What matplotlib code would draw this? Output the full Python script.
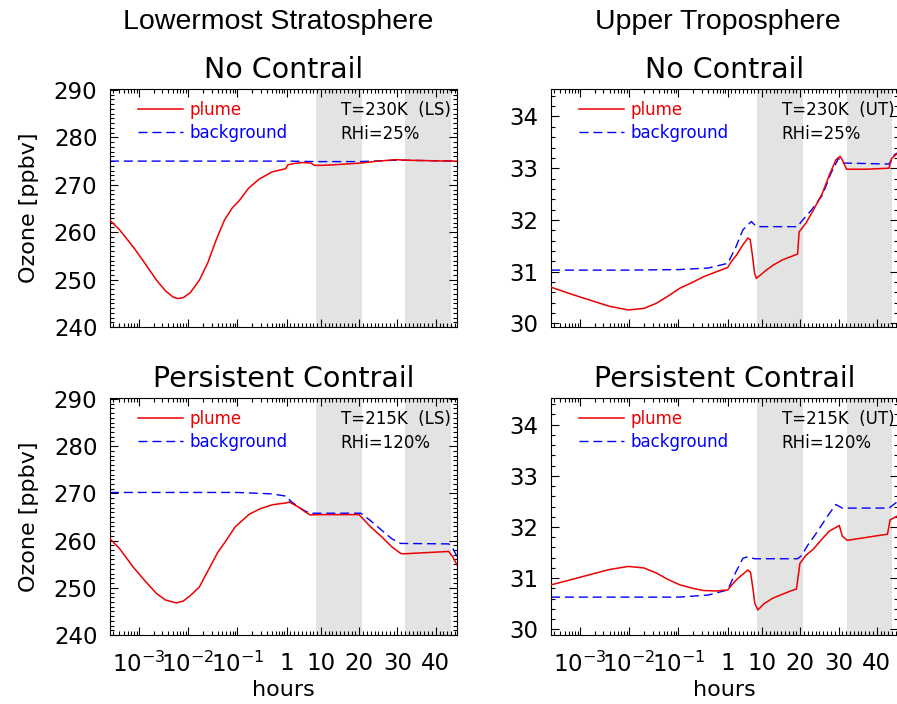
import numpy as np
import matplotlib
matplotlib.use('Agg')
import matplotlib.pyplot as plt
from matplotlib.ticker import FixedLocator, NullFormatter

# hours since emission; log axis below 1 h, linear above
K = 0.0776

# Lowermost stratosphere, no contrail
ls_nc_t = [2.6e-4, 4e-4, 7.7e-4, 1.3e-3, 2.28e-3, 3.5e-3, 5e-3, 6.2e-3, 8e-3, 0.011, 0.017, 0.025,
           0.037, 0.055, 0.08, 0.11, 0.17, 0.278, 0.5, 0.96, 1.1, 1.3, 3, 5.1, 7.3, 8.3, 10, 13,
           20.6, 25, 29.5, 32, 43.4, 45.6]
ls_nc_plume = [262.5, 260.6, 256.9, 253.6, 249.9, 247.6, 246.3, 246.0, 246.2, 247.2, 249.9, 253.5,
               258.3, 262.6, 265.2, 266.7, 269.3, 271.2, 272.7, 273.4, 273.9, 274.2, 274.5, 274.7,
               274.6, 274.1, 274.1, 274.2, 274.6, 275.0, 275.3, 275.2, 275.0, 275.0]
ls_nc_bg_t = [2.6e-4, 1.0, 8.7, 20.0, 30.0, 45.6]
ls_nc_bg = [275.0, 275.0, 274.9, 274.9, 275.2, 275.0]

# Lowermost stratosphere, persistent contrail
ls_pc_t = [2.6e-4, 4e-4, 7.7e-4, 1.3e-3, 2.28e-3, 3.5e-3, 5.8e-3, 8e-3, 0.011, 0.017, 0.025, 0.04,
           0.059, 0.09, 0.175, 0.3, 0.52, 1.0, 1.65, 3, 4.3, 6, 7.3, 8.5, 20, 20.4, 23, 26, 28.5,
           30.8, 31.6, 43.4, 44.5, 45.6]
ls_pc_plume = [260.4, 258.4, 254.4, 251.6, 248.8, 247.4, 246.8, 247.2, 248.3, 250.2, 253.5, 257.5,
               260.0, 262.9, 265.6, 266.8, 267.6, 268.0, 268.2, 267.6, 267.0, 266.0, 265.4, 265.5,
               265.5, 265.1, 262.9, 260.7, 258.7, 257.3, 257.2, 257.7, 256.5, 254.8]
ls_pc_bg_t = [2.6e-4, 0.1, 0.5, 1.0, 2.0, 4.3, 6, 7.8, 20.4, 23, 26, 28.5, 30.8, 43.4, 44.5, 45.6]
ls_pc_bg = [270.2, 270.2, 269.9, 269.4, 268.4, 267.0, 266.2, 265.8, 265.8, 264.2, 262.1, 260.4,
            259.4, 259.3, 258.3, 256.6]

# Upper troposphere, no contrail
ut_nc_t = [2.6e-4, 6e-4, 1.6e-3, 4e-3, 9.7e-3, 0.02, 0.036, 0.06, 0.107, 0.2, 0.32, 0.6, 1.0, 2.0,
           3.3, 5, 6.3, 6.9, 7.5, 8.05, 8.5, 9.5, 11.1, 13, 15.4, 19.3, 19.7, 21.5, 23.5, 25.8,
           27.5, 29.3, 30.4, 31.2, 32.1, 37, 43.2, 43.9, 45.5]
ut_nc_plume = [30.70, 30.58, 30.45, 30.33, 30.26, 30.29, 30.39, 30.52, 30.68, 30.80, 30.90, 31.00,
               31.08, 31.20, 31.32, 31.52, 31.65, 31.62, 31.30, 30.97, 30.87, 30.93, 31.03, 31.13,
               31.23, 31.34, 31.77, 31.94, 32.20, 32.52, 32.85, 33.16, 33.23, 33.13, 32.98, 32.98,
               33.00, 33.19, 33.29]
ut_nc_bg_t = [2.6e-4, 0.01, 0.1, 0.4, 1.0, 3, 5, 7.2, 8.5, 19.3, 20.3, 23, 25.8, 28, 30.0, 31.2,
              43.2, 44.6, 45.5]
ut_nc_bg = [31.03, 31.03, 31.04, 31.07, 31.16, 31.45, 31.81, 31.97, 31.87, 31.87, 31.97, 32.20,
            32.48, 32.90, 33.19, 33.10, 33.08, 33.26, 33.30]

# Upper troposphere, persistent contrail
ut_pc_t = [2.6e-4, 6e-4, 1.6e-3, 4e-3, 9.7e-3, 0.02, 0.036, 0.06, 0.107, 0.2, 0.32, 0.6, 1.0, 2.0,
           3.3, 5, 6.3, 7.0, 7.6, 8.1, 8.9, 10.5, 12.8, 17.1, 19.0, 19.9, 21.5, 23.3, 25.5, 27.6,
           30.2, 31.0, 32.3, 42.8, 43.5, 45.5]
ut_pc_plume = [30.87, 30.96, 31.07, 31.17, 31.23, 31.20, 31.10, 30.98, 30.87, 30.80, 30.76, 30.75,
               30.77, 30.86, 30.97, 31.08, 31.16, 31.11, 30.80, 30.51, 30.38, 30.50, 30.61, 30.74,
               30.79, 31.29, 31.45, 31.56, 31.75, 31.92, 32.03, 31.82, 31.74, 31.86, 32.14, 32.22]
ut_pc_bg_t = [2.6e-4, 0.1, 0.4, 1.0, 3, 5, 6.3, 8, 19.3, 20.3, 22, 24.2, 27, 29.3, 31, 43.2, 45.5]
ut_pc_bg = [30.63, 30.63, 30.67, 30.77, 31.10, 31.39, 31.42, 31.38, 31.38, 31.44, 31.65, 31.88,
            32.20, 32.44, 32.37, 32.37, 32.50]

nights = [(8.7, 20.6), (32.1, 44.0)]
xticks = [1e-3, 1e-2, 1e-1, 1, 10, 20, 30, 40]
xticklabels = [r'$10^{-3}$', r'$10^{-2}$', r'$10^{-1}$', '1', '10', '20', '30', '40']
xlim = (2.6e-4, 45.6)


def fwd(t):
    t = np.asarray(t, dtype=float)
    with np.errstate(divide='ignore', invalid='ignore'):
        return np.where(t <= 1, np.log10(np.clip(t, 1e-12, None)), (t - 1) * K)


def inv(u):
    u = np.asarray(u, dtype=float)
    with np.errstate(over='ignore'):
        return np.where(u <= 0, 10 ** np.clip(u, -30, 0), 1 + u / K)


def panel(ax, t, plume, tb, bg, ylim, yticks, yminor, label1, label2, xlabels):
    ax.set_xscale('function', functions=(fwd, inv))
    for a, b in nights:
        ax.axvspan(a, b, color='#e3e3e3', lw=0, zorder=0)
    ax.plot(tb, bg, color='#0000ff', lw=1.0, ls=(0, (6.5, 3.5)), label='background', zorder=2)
    ax.plot(t, plume, color='#ee0000', lw=1.1, label='plume', zorder=3)
    ax.set_xlim(*xlim)
    ax.set_ylim(*ylim)

    minors = []
    for d in range(-4, 0):
        for m in range(2, 10):
            v = m * 10.0 ** d
            if xlim[0] < v < 1:
                minors.append(v)
    minors += [h for h in range(2, 46) if h not in (10, 20, 30, 40)]
    ax.xaxis.set_major_locator(FixedLocator(xticks))
    ax.xaxis.set_minor_locator(FixedLocator(minors))
    ax.xaxis.set_minor_formatter(NullFormatter())
    if xlabels:
        ax.set_xticklabels(xticklabels)
    else:
        ax.set_xticklabels([])
    ax.set_yticks(yticks)
    ax.yaxis.set_minor_locator(FixedLocator(np.arange(ylim[0] // 1, ylim[1] + 1, yminor)))
    ax.tick_params(which='both', direction='in', top=True, right=True, labelsize=16.5, width=0.8)
    ax.tick_params(which='major', length=6)
    ax.tick_params(which='minor', length=3)
    ax.tick_params(axis='x', pad=12)
    ax.tick_params(axis='y', pad=9)

    h, l = ax.get_legend_handles_labels()
    ax.legend(h[::-1], l[::-1], loc='upper left', bbox_to_anchor=(0.081, 0.95), frameon=False,
              fontsize=12, handlelength=2.7, handletextpad=0.4, labelspacing=0.3,
              borderpad=0, borderaxespad=0, labelcolor='linecolor')
    ax.text(0.665, 0.912, label1, transform=ax.transAxes, fontsize=12, va='center')
    ax.text(0.665, 0.812, label2, transform=ax.transAxes, fontsize=12, va='center')


fig = plt.figure(figsize=(8.97, 7.04), dpi=100)
W = 0.387
ax1 = fig.add_axes([0.1226, 0.5355, W, 0.338])
ax2 = fig.add_axes([0.6143, 0.5355, W, 0.338])
ax3 = fig.add_axes([0.1226, 0.098, W, 0.3366])
ax4 = fig.add_axes([0.6143, 0.098, W, 0.3366])

ls_ticks = [240, 250, 260, 270, 280, 290]
ut_ticks = [30, 31, 32, 33, 34]
panel(ax1, ls_nc_t, ls_nc_plume, ls_nc_bg_t, ls_nc_bg, (240, 290.2), ls_ticks, 1,
      'T=230K  (LS)', 'RHi=25%', False)
panel(ax2, ut_nc_t, ut_nc_plume, ut_nc_bg_t, ut_nc_bg, (29.93, 34.53), ut_ticks, 0.2,
      'T=230K  (UT)', 'RHi=25%', False)
panel(ax3, ls_pc_t, ls_pc_plume, ls_pc_bg_t, ls_pc_bg, (240, 290.2), ls_ticks, 1,
      'T=215K  (LS)', 'RHi=120%', True)
panel(ax4, ut_pc_t, ut_pc_plume, ut_pc_bg_t, ut_pc_bg, (29.89, 34.52), ut_ticks, 0.2,
      'T=215K  (UT)', 'RHi=120%', True)

for ax in (ax1, ax3):
    ax.set_ylabel('Ozone [ppbv]', fontsize=16, labelpad=11)
for ax in (ax3, ax4):
    ax.set_xlabel('hours', fontsize=16, labelpad=2)

for ax, s in ((ax1, 'No Contrail'), (ax2, 'No Contrail'),
              (ax3, 'Persistent Contrail'), (ax4, 'Persistent Contrail')):
    ax.set_title(s, fontsize=20.5, pad=8)

fig.text(0.31, 0.969, 'Lowermost Stratosphere', fontsize=20.5, family='Liberation Sans',
         ha='center', va='center')
fig.text(0.80, 0.969, 'Upper Troposphere', fontsize=20.5, family='Liberation Sans',
         ha='center', va='center')

fig.savefig('out.png', dpi=100)
